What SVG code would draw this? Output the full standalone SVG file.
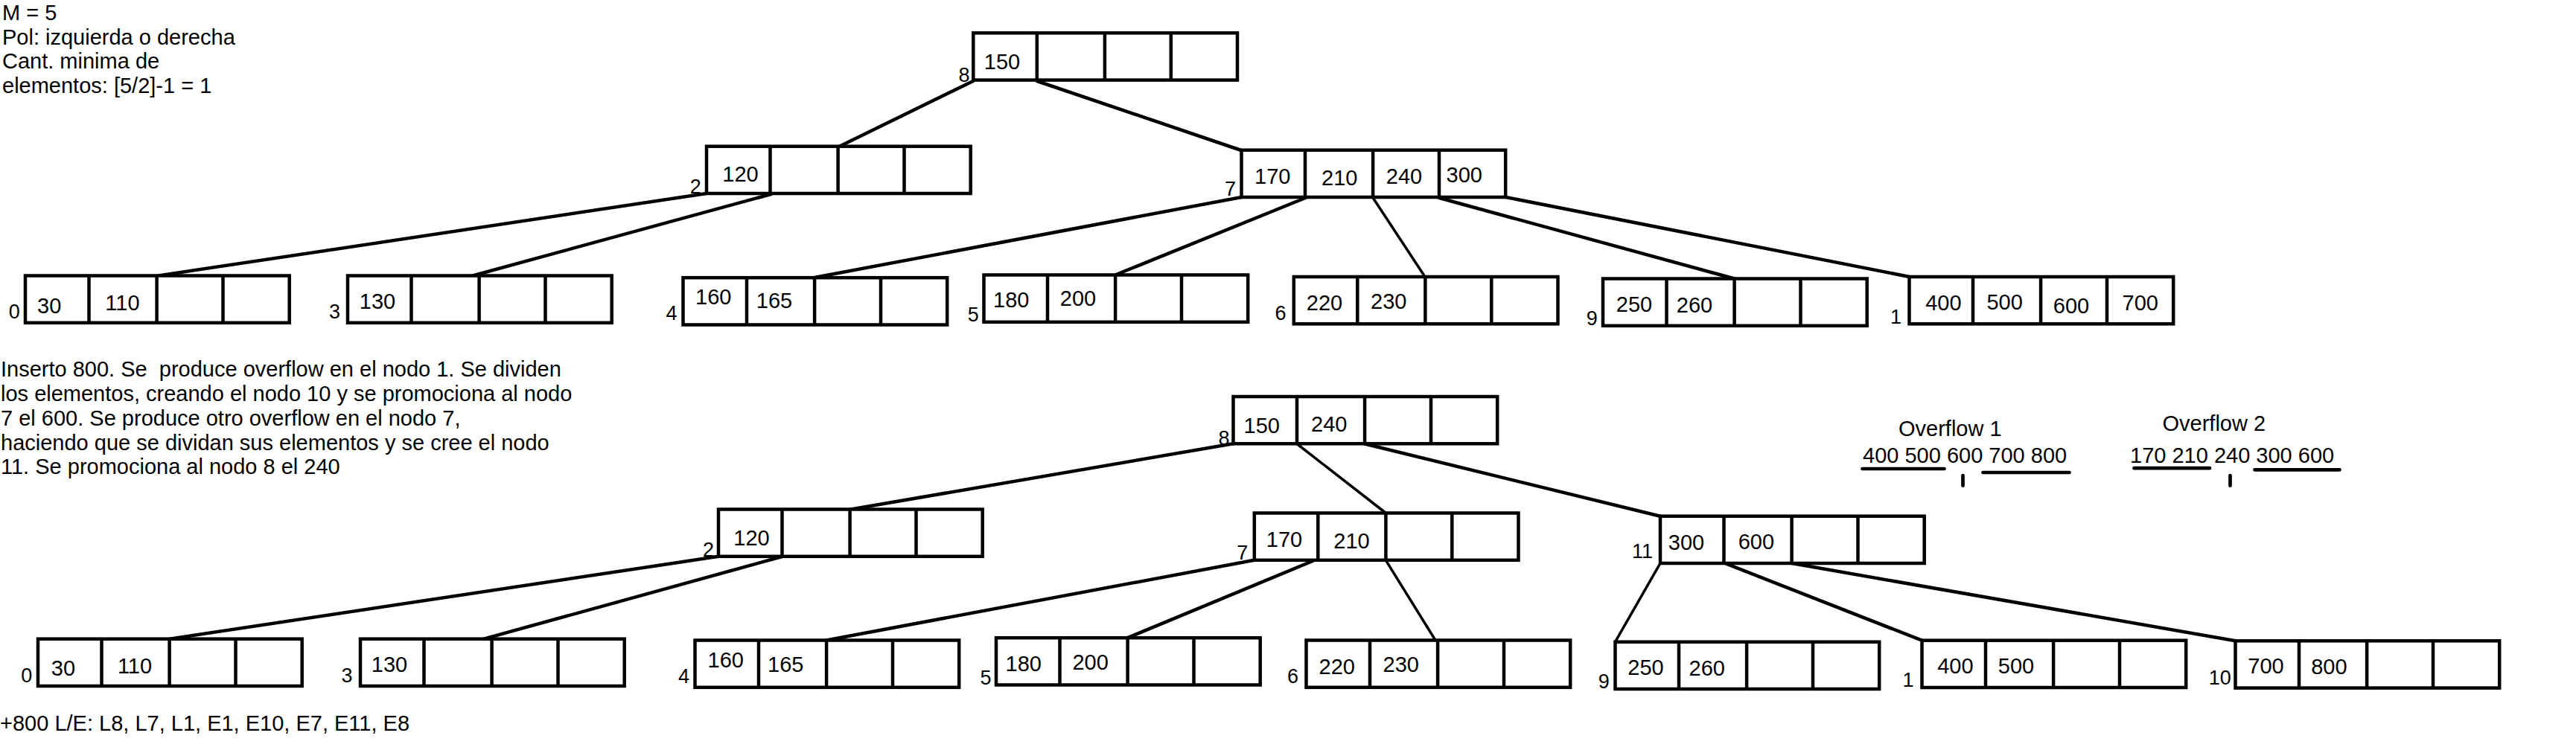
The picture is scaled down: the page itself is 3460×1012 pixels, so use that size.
<svg xmlns="http://www.w3.org/2000/svg" width="3460" height="1012" viewBox="0 0 3460 1012">
<style>
text{font-family:"Liberation Sans",Arial,sans-serif;fill:#000}
.t{font-size:29px;white-space:pre}
.v{font-size:29px;text-anchor:middle}
.lbl{font-size:27px;text-anchor:middle}
.frame{fill:#fff;stroke:#000;stroke-width:4.5}
.edge{stroke:#000;stroke-width:4.5;fill:none;stroke-linecap:round}
.thin{stroke-width:3.5}
.ul{stroke:#000;stroke-width:4.7;stroke-linecap:round;fill:none}
</style>
<defs>
<g id="frame">
<rect class="frame" x="0" y="0" width="354.7" height="63.3"/>
<path d="M85.5 0V63.3M176.6 0V63.3M265.5 0V63.3" stroke="#000" stroke-width="4.5" fill="none"/>
</g>
</defs>
<rect x="0" y="0" width="3460" height="1012" fill="#fff"/>

<g id="notes">
<text class="t" x="3" y="27">M = 5</text>
<text class="t" x="3" y="59.5">Pol: izquierda o derecha</text>
<text class="t" x="3" y="92">Cant. minima de</text>
<text class="t" x="3" y="125">elementos: [5/2]-1 = 1</text>
<text class="t" x="1" y="506" xml:space="preserve">Inserto 800. Se  produce overflow en el nodo 1. Se dividen</text>
<text class="t" x="1" y="539">los elementos, creando el nodo 10 y se promociona al nodo</text>
<text class="t" x="1" y="571.5">7 el 600. Se produce otro overflow en el nodo 7,</text>
<text class="t" x="1" y="604.5">haciendo que se dividan sus elementos y se cree el nodo</text>
<text class="t" x="1" y="637">11. Se promociona al nodo 8 el 240</text>
<text class="t" x="0" y="982">+800 L/E: L8, L7, L1, E1, E10, E7, E11, E8</text>
</g>

<g id="overflow-notes">
<text class="t" x="2550" y="585.7">Overflow 1</text>
<text class="t" x="2502" y="622.3">400 500 600 700 800</text>
<text class="t" x="2904.5" y="579">Overflow 2</text>
<text class="t" x="2861" y="622.3">170 210 240 300 600</text>
<path class="ul" d="M2501.5 630H2611.5M2636.5 639V652.7M2663.5 635H2779.5M2866.5 629.2H2968M2995.5 639V652.7M3028.5 631.3H3142.5"/>
</g>

<g id="connectors">
<path class="edge" d="M1307 109L1128 196.5"/>
<path class="edge" d="M1393 109L1667 202"/>
<path class="edge" d="M949 260L213 370.5"/>
<path class="edge" d="M1035.5 261L635 370.5"/>
<path class="edge" d="M1667.5 265L1094 373"/>
<path class="edge" d="M1753.3 266L1498 369.5"/>
<path class="edge thin" d="M1844.2 266L1914 372"/>
<path class="edge" d="M1933.3 266L2329.6 374.5"/>
<path class="edge" d="M2022.5 265L2564.5 372"/>
<path class="edge" d="M1656.5 596.3L1143 684.5"/>
<path class="edge thin" d="M1742 596.5L1861.4 689.5"/>
<path class="edge" d="M1833.1 596.5L2230 693.7"/>
<path class="edge" d="M965 747.8L228 858.7"/>
<path class="edge" d="M1050.5 748L650 858.7"/>
<path class="edge" d="M1684.8 752.8L1110 860.5"/>
<path class="edge" d="M1763 754L1514.6 857.2"/>
<path class="edge thin" d="M1861.4 753L1928 860.5"/>
<path class="edge thin" d="M2230 757L2169.5 862.7"/>
<path class="edge" d="M2317 757L2581.5 860.7"/>
<path class="edge" d="M2406.6 757L3002.5 861.3"/>
</g>

<g id="node-8">
<use href="#frame" x="1307.3" y="44.3"/>
<text class="v" x="1346" y="92.7">150</text>
<text class="lbl" x="1295" y="110">8</text>
</g>
<g id="node-2">
<use href="#frame" x="949" y="196.7"/>
<text class="v" x="994.5" y="244">120</text>
<text class="lbl" x="934.3" y="260">2</text>
</g>
<g id="node-7">
<use href="#frame" x="1667.5" y="201.7"/>
<text class="v" x="1709.2" y="246.7">170</text>
<text class="v" x="1799.3" y="249.3">210</text>
<text class="v" x="1886" y="246.7">240</text>
<text class="v" x="1966.7" y="245">300</text>
<text class="lbl" x="1652.5" y="263.3">7</text>
</g>
<g id="node-0">
<use href="#frame" x="34" y="370.5"/>
<text class="v" x="66.2" y="421">30</text>
<text class="v" x="164.4" y="416.7">110</text>
<text class="lbl" x="19.3" y="428.3">0</text>
</g>
<g id="node-3">
<use href="#frame" x="467" y="370.5"/>
<text class="v" x="507" y="415">130</text>
<text class="lbl" x="449.5" y="428.3">3</text>
</g>
<g id="node-4">
<use href="#frame" x="917.5" y="373.2"/>
<text class="v" x="958.2" y="409.3">160</text>
<text class="v" x="1040" y="414">165</text>
<text class="lbl" x="902" y="430">4</text>
</g>
<g id="node-5">
<use href="#frame" x="1321.5" y="369.5"/>
<text class="v" x="1358.2" y="413.3">180</text>
<text class="v" x="1448" y="410.7">200</text>
<text class="lbl" x="1307.3" y="431.7">5</text>
</g>
<g id="node-6">
<use href="#frame" x="1737.8" y="372"/>
<text class="v" x="1779" y="417.3">220</text>
<text class="v" x="1865.2" y="415">230</text>
<text class="lbl" x="1720" y="430">6</text>
</g>
<g id="node-9">
<use href="#frame" x="2153" y="374.5"/>
<text class="v" x="2195" y="419.3">250</text>
<text class="v" x="2276" y="420">260</text>
<text class="lbl" x="2138.2" y="436.7">9</text>
</g>
<g id="node-1">
<use href="#frame" x="2564.5" y="372"/>
<text class="v" x="2610.4" y="416.7">400</text>
<text class="v" x="2692.6" y="416">500</text>
<text class="v" x="2782" y="420.7">600</text>
<text class="v" x="2874.7" y="416.7">700</text>
<text class="lbl" x="2546.5" y="435">1</text>
</g>

<g id="node-8b">
<use href="#frame" x="1656.5" y="533"/>
<text class="v" x="1694.7" y="581.7">150</text>
<text class="v" x="1785.2" y="580">240</text>
<text class="lbl" x="1643.9" y="598.3">8</text>
</g>
<g id="node-2b">
<use href="#frame" x="965" y="684.5"/>
<text class="v" x="1009.5" y="732.7">120</text>
<text class="lbl" x="951.5" y="748.3">2</text>
</g>
<g id="node-7b">
<use href="#frame" x="1684.8" y="689.5"/>
<text class="v" x="1725" y="735">170</text>
<text class="v" x="1815.5" y="736.7">210</text>
<text class="lbl" x="1668.7" y="751.7">7</text>
</g>
<g id="node-11b">
<use href="#frame" x="2230" y="693.7"/>
<text class="v" x="2265" y="739">300</text>
<text class="v" x="2358.9" y="738.3">600</text>
<text class="lbl" x="2206" y="750">11</text>
</g>
<g id="node-0b">
<use href="#frame" x="51" y="858.7"/>
<text class="v" x="85" y="908.3">30</text>
<text class="v" x="181" y="905">110</text>
<text class="lbl" x="35.8" y="916.7">0</text>
</g>
<g id="node-3b">
<use href="#frame" x="484" y="858.7"/>
<text class="v" x="523" y="903.3">130</text>
<text class="lbl" x="466" y="916.7">3</text>
</g>
<g id="node-4b">
<use href="#frame" x="933.5" y="860.5"/>
<text class="v" x="974.8" y="897.3">160</text>
<text class="v" x="1055.3" y="902.7">165</text>
<text class="lbl" x="918.5" y="918.3">4</text>
</g>
<g id="node-5b">
<use href="#frame" x="1338" y="857.2"/>
<text class="v" x="1374.7" y="901.7">180</text>
<text class="v" x="1464.6" y="900">200</text>
<text class="lbl" x="1324" y="920">5</text>
</g>
<g id="node-6b">
<use href="#frame" x="1754.5" y="860.5"/>
<text class="v" x="1795.7" y="906">220</text>
<text class="v" x="1881.7" y="902.7">230</text>
<text class="lbl" x="1736.6" y="918.3">6</text>
</g>
<g id="node-9b">
<use href="#frame" x="2169.5" y="862.7"/>
<text class="v" x="2210.5" y="907.3">250</text>
<text class="v" x="2292.7" y="908.3">260</text>
<text class="lbl" x="2154.3" y="925">9</text>
</g>
<g id="node-1b">
<use href="#frame" x="2581.5" y="860.7"/>
<text class="v" x="2626.4" y="905">400</text>
<text class="v" x="2708" y="905">500</text>
<text class="lbl" x="2563" y="923.3">1</text>
</g>
<g id="node-10b">
<use href="#frame" x="3002.5" y="861.3"/>
<text class="v" x="3043.5" y="905">700</text>
<text class="v" x="3128.4" y="906">800</text>
<text class="lbl" x="2981.7" y="920">10</text>
</g>
</svg>
